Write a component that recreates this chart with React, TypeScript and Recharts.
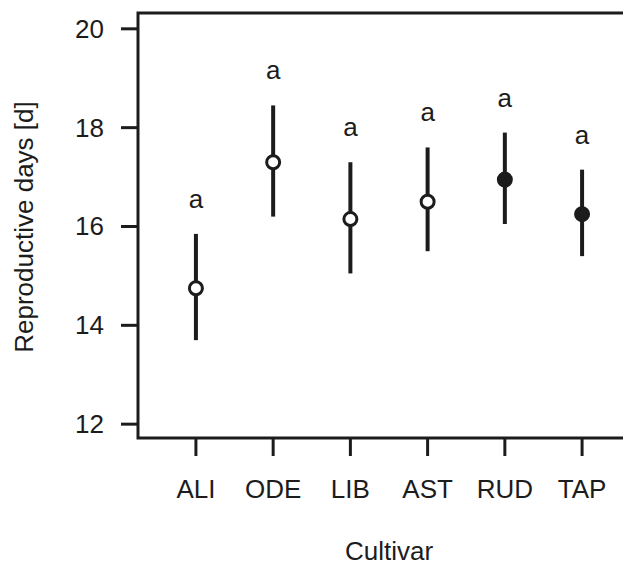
import {
  ScatterChart,
  Scatter,
  XAxis,
  YAxis,
  ErrorBar,
  ReferenceArea,
} from "recharts";

const cultivars = ["ALI", "ODE", "LIB", "AST", "RUD", "TAP"];
const means = [14.75, 17.3, 16.15, 16.5, 16.95, 16.25];
const lows = [13.7, 16.2, 15.05, 15.5, 16.05, 15.4];
const highs = [15.85, 18.45, 17.3, 17.6, 17.9, 17.15];
const filled = [false, false, false, false, true, true];
const letters = ["a", "a", "a", "a", "a", "a"];
const yTicks = [12, 14, 16, 18, 20];

const INK = "#1c1c1c";
const FONT = "'Liberation Sans', Arial, Helvetica, sans-serif";
const FS = 26;

const data = cultivars.map((c, i) => ({
  x: i + 1,
  name: c,
  mean: means[i],
  high: highs[i],
  err: [means[i] - lows[i], highs[i] - means[i]],
  filled: filled[i],
  letter: letters[i],
}));

const Dot = (p: any) => (
  <circle
    cx={p.cx}
    cy={p.cy}
    r={6.5}
    fill={p.payload.filled ? INK : "#ffffff"}
    stroke={INK}
    strokeWidth={3}
  />
);

const Letter = (p: any) => (
  <text x={p.cx} y={p.cy - 26} textAnchor="middle" fontSize={FS} fontFamily={FONT} fill={INK}>
    {p.payload.letter}
  </text>
);

const XTick = (p: any) => (
  <text x={p.x} y={p.y + 42} textAnchor="middle" fontSize={FS} fontFamily={FONT} fill={INK}>
    {cultivars[p.payload.value - 1]}
  </text>
);

const YTick = (p: any) => (
  <text x={p.x} y={p.y + 9} textAnchor="end" fontSize={FS} fontFamily={FONT} fill={INK}>
    {p.payload.value}
  </text>
);

export default function App() {
  return (
    <div style={{ width: 623, height: 566, overflow: "hidden", background: "#fff" }}>
      <style>{"body{margin:0}"}</style>
      <ScatterChart
        width={660}
        height={566}
        margin={{ top: 13, right: 20, left: 0, bottom: 0 }}
      >
        <ReferenceArea
          x1={0.25}
          x2={6.75}
          y1={11.72}
          y2={20.32}
          fill="none"
          stroke={INK}
          strokeWidth={3}
          ifOverflow="visible"
        />
        <XAxis
          type="number"
          dataKey="x"
          domain={[0.25, 6.75]}
          ticks={[1, 2, 3, 4, 5, 6]}
          height={128}
          axisLine={false}
          tickSize={18}
          tickMargin={0}
          tickLine={{ stroke: INK, strokeWidth: 3 }}
          tick={XTick}
          label={{
            content: (props: any) => {
              const vb = props.viewBox;
              return (
                <text
                  x={vb.x + vb.width / 2}
                  y={560}
                  textAnchor="middle"
                  fontSize={FS}
                  fontFamily={FONT}
                  fill={INK}
                >
                  Cultivar
                </text>
              );
            },
          }}
        />
        <YAxis
          type="number"
          dataKey="mean"
          domain={[11.72, 20.32]}
          ticks={yTicks}
          width={138}
          axisLine={false}
          tickSize={17}
          tickMargin={17}
          tickLine={{ stroke: INK, strokeWidth: 3 }}
          tick={YTick}
          label={{
            content: () => (
              <text
                x={33}
                y={227}
                transform="rotate(-90 33 227)"
                textAnchor="middle"
                fontSize={26}
                fontFamily={FONT}
                fill={INK}
              >
                Reproductive days [d]
              </text>
            ),
          }}
        />
        <Scatter data={data} dataKey="mean" shape={() => <g />} isAnimationActive={false}>
          <ErrorBar
            dataKey="err"
            direction="y"
            width={0}
            stroke={INK}
            strokeWidth={4}
            isAnimationActive={false}
          />
        </Scatter>
        <Scatter data={data} dataKey="mean" shape={Dot} isAnimationActive={false} />
        <Scatter
          data={data.map((d) => ({ ...d, mean: d.high }))}
          dataKey="mean"
          shape={Letter}
          isAnimationActive={false}
        />
      </ScatterChart>
    </div>
  );
}
